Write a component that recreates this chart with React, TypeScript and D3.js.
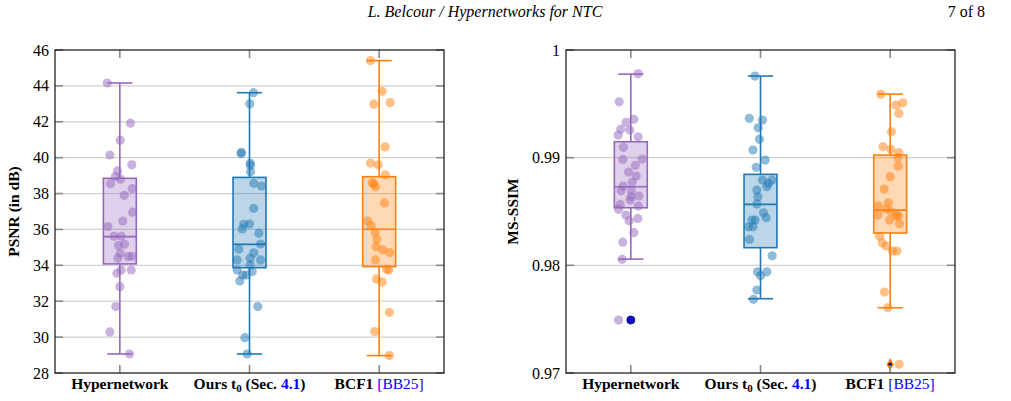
import React from "react";
import * as d3 from "d3";

// ---- data -------------------------------------------------------------
const categories = ["Hypernetwork", "Ours", "BCF1"];
const colors = ["#9467bd", "#1f77b4", "#ff7f0e"];

// each sample: [value, horizontal jitter as a fraction of the category step]
const psnrHyper: [number, number][] = [
  [44.16, -0.097], [41.92, 0.082], [40.97, 0.003], [40.15, -0.077], [39.6, 0.092],
  [39.26, -0.018], [38.94, -0.035], [38.8, 0.005], [38.55, -0.072], [38.27, 0.095],
  [37.9, 0.034], [36.96, 0.098], [36.47, 0.023], [36.16, -0.092], [35.62, -0.045],
  [35.62, 0.011], [35.17, 0.036], [35.1, -0.01], [34.67, 0.003], [34.48, 0.065],
  [34.5, 0.094], [34.39, -0.015], [33.74, 0.011], [33.56, -0.023], [33.74, 0.088],
  [32.81, 0.0], [31.7, -0.031], [30.29, -0.077], [29.06, 0.075],
];
const psnrOurs: [number, number][] = [
  [43.62, 0.031], [43.0, 0.002], [40.3, -0.062], [40.22, -0.065], [39.69, 0.005],
  [39.58, 0.008], [39.22, 0.008], [38.57, 0.033], [38.42, 0.092], [37.18, 0.033],
  [36.29, -0.044], [36.3, 0.0], [36.03, -0.056], [35.79, 0.072], [35.19, 0.085],
  [34.9, -0.082], [34.7, 0.033], [34.39, 0.005], [34.3, -0.095], [34.3, 0.085],
  [34.02, 0.005], [33.74, -0.095], [33.65, 0.021], [33.46, -0.052], [33.46, -0.025],
  [33.13, -0.075], [31.7, 0.064], [29.97, -0.036], [29.06, -0.018],
];
const psnrBcf: [number, number][] = [
  [45.41, -0.067], [43.7, 0.023], [42.98, -0.042], [43.07, 0.085], [40.6, 0.046],
  [39.7, -0.067], [39.6, -0.008], [39.04, 0.048], [38.6, -0.054], [38.54, -0.044],
  [38.38, -0.028], [37.48, 0.041], [36.47, -0.088], [36.2, -0.062], [35.84, -0.031],
  [35.45, -0.018], [35.04, -0.023], [34.86, 0.028], [34.71, 0.082], [34.3, -0.028],
  [33.74, 0.074], [33.78, 0.058], [33.24, -0.021], [33.07, 0.023], [31.38, 0.079],
  [30.31, -0.034], [28.97, 0.079],
];

const ssimHyper: [number, number][] = [
  [0.99779, 0.056], [0.99519, -0.09], [0.99356, 0.023], [0.99328, -0.036], [0.99263, -0.077],
  [0.99256, -0.008], [0.9921, -0.098], [0.99194, 0.056], [0.99096, -0.057], [0.98984, -0.062],
  [0.98987, 0.087], [0.98929, 0.035], [0.98866, -0.018], [0.98829, 0.041], [0.98771, 0.01],
  [0.98736, -0.059], [0.98693, -0.075], [0.98693, 0.005], [0.98637, 0.002], [0.98643, 0.062],
  [0.98606, -0.005], [0.98566, -0.082], [0.9855, 0.058], [0.9852, -0.095], [0.98467, -0.038],
  [0.98436, 0.054], [0.98414, -0.013], [0.98303, 0.023], [0.98215, -0.062], [0.98056, -0.067],
  [0.97492, -0.095],
];
const ssimOurs: [number, number][] = [
  [0.99758, -0.043], [0.99365, -0.087], [0.99349, 0.015], [0.99278, -0.018], [0.9917, -0.008],
  [0.99071, -0.058], [0.98978, 0.036], [0.9891, -0.033], [0.98792, 0.015], [0.98761, 0.062],
  [0.98792, 0.088], [0.9873, 0.049], [0.98699, -0.028], [0.98637, -0.02], [0.98569, -0.028],
  [0.98488, 0.023], [0.98442, 0.044], [0.9842, -0.066], [0.9842, -0.041], [0.98358, -0.092],
  [0.98358, -0.058], [0.98241, -0.085], [0.98089, 0.09], [0.9794, -0.023], [0.9794, 0.049],
  [0.97903, 0.0], [0.97771, -0.028], [0.97684, -0.054],
];
const ssimBcf: [number, number][] = [
  [0.99588, -0.072], [0.99488, 0.046], [0.9951, 0.098], [0.99411, 0.067], [0.9924, 0.01],
  [0.99101, -0.056], [0.99077, 0.005], [0.99046, 0.067], [0.99, 0.059], [0.98922, 0.062],
  [0.98823, 0.0], [0.98708, -0.046], [0.98553, -0.092], [0.98581, -0.013], [0.98523, -0.031],
  [0.98498, 0.008], [0.98467, -0.095], [0.98461, 0.048], [0.98458, 0.064], [0.9842, -0.005],
  [0.98386, 0.072], [0.98269, -0.082], [0.9821, -0.062], [0.98179, -0.031], [0.98133, 0.018],
  [0.98133, 0.052], [0.97752, -0.044], [0.97606, -0.018], [0.97081, 0.069],
];

// box statistics: [lower whisker, q1, median, q3, upper whisker]
const psnrBoxes: number[][] = [
  [29.06, 34.08, 35.6, 38.85, 44.16],
  [29.06, 33.87, 35.17, 38.9, 43.62],
  [28.97, 33.93, 36.01, 38.94, 45.41],
];
const ssimBoxes: number[][] = [
  [0.98058, 0.98535, 0.9873, 0.99148, 0.99776],
  [0.9769, 0.98164, 0.98566, 0.98845, 0.99758],
  [0.97606, 0.983, 0.98513, 0.99024, 0.99591],
];
// outliers flagged by the box plot: [category index, value]
const ssimFliers: [number, number][] = [[0, 0.97492], [2, 0.9708]];

const psnrTicks = [28, 30, 32, 34, 36, 38, 40, 42, 44, 46];
const ssimTicks = [0.97, 0.98, 0.99, 1.0];
const ssimTickLabels = ["0.97", "0.98", "0.99", "1"];

const FONT = "'Liberation Serif', 'DejaVu Serif', serif";
const LABEL_SIZE = 15.5;

type PanelProps = {
  x0: number;
  x1: number;
  y0: number;
  y1: number;
  domain: [number, number];
  ticks: number[];
  tickLabels: string[];
  samples: [number, number][][];
  boxes: number[][];
  fliers: [number, number][];
  title: string;
  titleX: number;
};

function XLabel({ i, x, y }: { i: number; x: number; y: number }) {
  const common = { x, y, textAnchor: "middle" as const, fontFamily: FONT, fontSize: LABEL_SIZE, fontWeight: 700, fill: "#000" };
  if (i === 0) return <text {...common}>Hypernetwork</text>;
  if (i === 1)
    return (
      <text {...common}>
        Ours t<tspan fontSize={11} dy={3}>0</tspan>
        <tspan dy={-3}> (Sec. </tspan>
        <tspan fill="#0000ff">4.1</tspan>)
      </text>
    );
  return (
    <text {...common}>
      BCF1 <tspan fontWeight={400} fill="#0000ff">[BB25]</tspan>
    </text>
  );
}

function Panel(p: PanelProps) {
  const x = d3.scalePoint<string>().domain(categories).range([p.x0, p.x1]).padding(0.5);
  const y = d3.scaleLinear().domain(p.domain).range([p.y1, p.y0]);
  const step = x.step();
  const boxHalf = step * 0.127;
  const capHalf = step * 0.097;
  const diamond = d3.symbol().type(d3.symbolDiamond).size(46)() as string;
  return (
    <g>
      {/* horizontal grid */}
      {p.ticks.map((t) =>
        t > p.domain[0] && t < p.domain[1] ? (
          <line key={"g" + t} x1={p.x0} x2={p.x1} y1={y(t)} y2={y(t)} stroke="#d2d2d2" strokeWidth={1.3} />
        ) : null
      )}
      {/* boxes and whiskers */}
      {categories.map((c, i) => {
        const cx = x(c)!;
        const [lo, q1, med, q3, hi] = p.boxes[i];
        const col = colors[i];
        return (
          <g key={"b" + c}>
            <rect x={cx - boxHalf} y={y(q3)} width={boxHalf * 2} height={y(q1) - y(q3)} fill={col} fillOpacity={0.3} stroke={col} strokeWidth={1.6} />
            <line x1={cx - boxHalf} x2={cx + boxHalf} y1={y(med)} y2={y(med)} stroke={col} strokeWidth={1.6} />
            <line x1={cx} x2={cx} y1={y(q3)} y2={y(hi)} stroke={col} strokeWidth={1.6} />
            <line x1={cx} x2={cx} y1={y(q1)} y2={y(lo)} stroke={col} strokeWidth={1.6} />
            <line x1={cx - capHalf} x2={cx + capHalf} y1={y(hi)} y2={y(hi)} stroke={col} strokeWidth={1.6} />
            <line x1={cx - capHalf} x2={cx + capHalf} y1={y(lo)} y2={y(lo)} stroke={col} strokeWidth={1.6} />
          </g>
        );
      })}
      {/* jittered samples */}
      {categories.map((c, i) =>
        p.samples[i].map(([v, j], k) => (
          <circle key={c + k} cx={x(c)! + j * step} cy={y(v)} r={4.6} fill={colors[i]} fillOpacity={0.5} />
        ))
      )}
      {/* outliers */}
      {p.fliers.map(([ci, v], k) =>
        ci === 0 ? (
          <circle key={"f" + k} cx={x(categories[ci])!} cy={y(v)} r={4} fill="#0a0ad2" stroke="#00005a" strokeWidth={0.8} />
        ) : (
          <g key={"f" + k} transform={`translate(${x(categories[ci])!},${y(v)})`}>
            <path d={diamond} fill={colors[ci]} />
            <circle r={1.8} fill="#00008b" />
          </g>
        )
      )}
      {/* ticks */}
      {p.ticks.map((t) => (
        <g key={"t" + t}>
          <line x1={p.x0} x2={p.x0 + 8} y1={y(t)} y2={y(t)} stroke="#8a8a8a" strokeWidth={1.6} />
          <line x1={p.x1 - 8} x2={p.x1} y1={y(t)} y2={y(t)} stroke="#8a8a8a" strokeWidth={1.6} />
        </g>
      ))}
      {categories.map((c) => (
        <g key={"xt" + c}>
          <line x1={x(c)!} x2={x(c)!} y1={p.y0} y2={p.y0 + 8} stroke="#8a8a8a" strokeWidth={1.6} />
          <line x1={x(c)!} x2={x(c)!} y1={p.y1 - 8} y2={p.y1} stroke="#8a8a8a" strokeWidth={1.6} />
        </g>
      ))}
      {/* frame */}
      <rect x={p.x0} y={p.y0} width={p.x1 - p.x0} height={p.y1 - p.y0} fill="none" stroke="#111" strokeWidth={1.2} />
      {/* tick labels */}
      {p.ticks.map((t, k) => (
        <text key={"l" + t} x={p.x0 - 6} y={y(t) + 5.5} textAnchor="end" fontFamily={FONT} fontSize={16} fill="#000">
          {p.tickLabels[k]}
        </text>
      ))}
      {categories.map((c, i) => (
        <XLabel key={"xl" + c} i={i} x={x(c)!} y={389} />
      ))}
      <text
        transform={`translate(${p.titleX},${(p.y0 + p.y1) / 2}) rotate(-90)`}
        textAnchor="middle"
        fontFamily={FONT}
        fontSize={LABEL_SIZE}
        fontWeight={700}
        fill="#000"
      >
        {p.title}
      </text>
    </g>
  );
}

export default function App() {
  return (
    <svg width={1011} height={401} style={{ position: "absolute", left: 0, top: 0, background: "#fff" }}>
      <rect width={1011} height={401} fill="#fff" />
      <text x={485} y={17} textAnchor="middle" fontFamily={FONT} fontStyle="italic" fontSize={16} fill="#000">
        L. Belcour / Hypernetworks for NTC
      </text>
      <text x={985} y={17} textAnchor="end" fontFamily={FONT} fontSize={16} fill="#000">
        7 of 8
      </text>
      <Panel
        x0={55}
        x1={444}
        y0={50}
        y1={373}
        domain={[28, 46]}
        ticks={psnrTicks}
        tickLabels={psnrTicks.map(String)}
        samples={[psnrHyper, psnrOurs, psnrBcf]}
        boxes={psnrBoxes}
        fliers={[]}
        title="PSNR (in dB)"
        titleX={19}
      />
      <Panel
        x0={566}
        x1={955}
        y0={50}
        y1={373}
        domain={[0.97, 1.0]}
        ticks={ssimTicks}
        tickLabels={ssimTickLabels}
        samples={[ssimHyper, ssimOurs, ssimBcf]}
        boxes={ssimBoxes}
        fliers={ssimFliers}
        title="MS-SSIM"
        titleX={518}
      />
    </svg>
  );
}
